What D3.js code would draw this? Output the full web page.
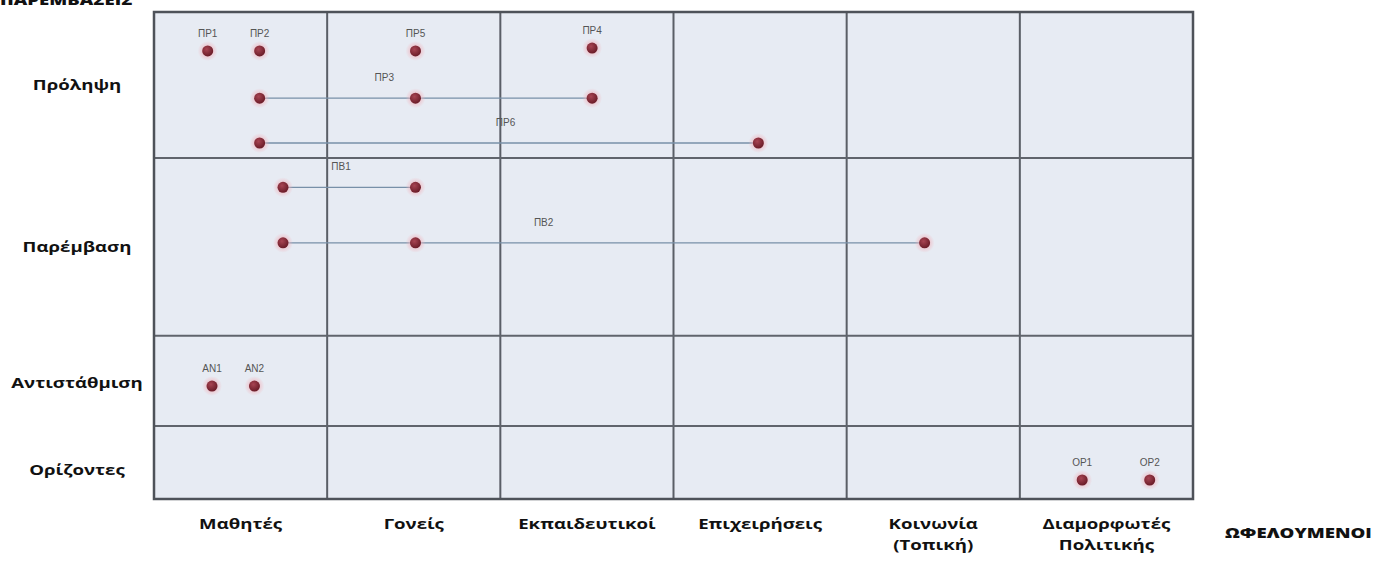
<!DOCTYPE html>
<html><head><meta charset="utf-8">
<script src="https://cdn.jsdelivr.net/npm/d3@7"></script>
<style>body{margin:0;background:#fff}svg{display:block}</style>
</head><body>
<svg id="c" width="1379" height="562"></svg>
<script>
// Data
const columns = ["Μαθητές","Γονείς","Εκπαιδευτικοί","Επιχειρήσεις","Κοινωνία\n(Τοπική)","Διαμορφωτές\nΠολιτικής"];
const rows = ["Πρόληψη","Παρέμβαση","Αντιστάθμιση","Ορίζοντες"];
const rowBounds = [0, 30, 66.5, 85, 100];          // vertical extent of each row (0-100 units)
const singles = [                                   // [label, column position, row position]
  ["ΠΡ1", 0.31, 8], ["ΠΡ2", 0.61, 8], ["ΠΡ5", 1.51, 8], ["ΠΡ4", 2.53, 7.4],
  ["ΑΝ1", 0.335, 76.8], ["ΑΝ2", 0.58, 76.8],
  ["ΟΡ1", 5.36, 96.1], ["ΟΡ2", 5.75, 96.1]
];
const chains = [                                    // [label, label pos, row pos, points]
  ["ΠΡ3", 1.33, 17.7, [0.61, 1.51, 2.53]],
  ["ΠΡ6", 2.03, 26.9, [0.61, 3.49]],
  ["ΠΒ1", 1.08, 36.0, [0.745, 1.51]],
  ["ΠΒ2", 2.25, 47.4, [0.745, 1.51, 4.45]]
];
const yTitle = "ΠΑΡΕΜΒΑΣΕΙΣ";
const xTitle = "ΩΦΕΛΟΥΜΕΝΟΙ";

const svg = d3.select("#c");
const L = 154, R = 1193, T = 12, B = 499;
const x = d3.scaleLinear().domain([0, columns.length]).range([L, R]);
const y = d3.scaleLinear().domain([0, 100]).range([T, B]);
const SX = 1.33; // horizontal stretch of the bold labels

const defs = svg.append("defs");
const g1 = defs.append("radialGradient").attr("id","dot").attr("cx","40%").attr("cy","35%").attr("r","65%");
g1.append("stop").attr("offset","0%").attr("stop-color","#a84452");
g1.append("stop").attr("offset","100%").attr("stop-color","#6a1c28");
const g2 = defs.append("radialGradient").attr("id","halo");
g2.append("stop").attr("offset","40%").attr("stop-color","#f0b4bd").attr("stop-opacity",0.75);
g2.append("stop").attr("offset","100%").attr("stop-color","#f0b4bd").attr("stop-opacity",0);

// background
svg.append("rect").attr("x",L).attr("y",T).attr("width",R-L).attr("height",B-T).attr("fill","#e7ebf3");

// grid
svg.append("g").selectAll("line").data(d3.range(1, columns.length)).join("line")
  .attr("x1",d=>x(d)).attr("x2",d=>x(d)).attr("y1",T).attr("y2",B)
  .attr("stroke","#5a5e66").attr("stroke-width",2);
svg.append("g").selectAll("line").data(rowBounds.slice(1,-1)).join("line")
  .attr("x1",L).attr("x2",R).attr("y1",d=>y(d)).attr("y2",d=>y(d))
  .attr("stroke","#60646c").attr("stroke-width",2);
svg.append("rect").attr("x",L).attr("y",T).attr("width",R-L).attr("height",B-T)
  .attr("fill","none").attr("stroke","#4e5259").attr("stroke-width",2.5);

// connecting lines
svg.append("g").selectAll("line").data(chains).join("line")
  .attr("x1",d=>x(d3.min(d[3]))).attr("x2",d=>x(d3.max(d[3])))
  .attr("y1",d=>y(d[2])).attr("y2",d=>y(d[2]))
  .attr("stroke","#7890a8").attr("stroke-width",1.3);

// points
const pts = singles.map(d=>({x:d[1], y:d[2]}))
  .concat(chains.flatMap(c=>c[3].map(p=>({x:p, y:c[2]}))));
const pg = svg.append("g");
pg.selectAll("circle.h").data(pts).join("circle").attr("class","h")
  .attr("cx",d=>x(d.x)).attr("cy",d=>y(d.y)).attr("r",10).attr("fill","url(#halo)");
pg.selectAll("circle.d").data(pts).join("circle").attr("class","d")
  .attr("cx",d=>x(d.x)).attr("cy",d=>y(d.y)).attr("r",5.5).attr("fill","url(#dot)");

// point labels
const lf = "'Liberation Sans', Arial, sans-serif";
svg.append("g").selectAll("text").data(singles).join("text")
  .attr("x",d=>x(d[1])).attr("y",d=>y(d[2])-14).attr("text-anchor","middle")
  .attr("font-family",lf).attr("font-size",10).attr("fill","#555").text(d=>d[0]);
svg.append("g").selectAll("text").data(chains).join("text")
  .attr("x",d=>x(d[1])).attr("y",d=>y(d[2])-17).attr("text-anchor","middle")
  .attr("font-family",lf).attr("font-size",10).attr("fill","#555").text(d=>d[0]);

// stretched bold text helper
const bf = "'Open Sans', 'DejaVu Sans', sans-serif";
function stretched(sel, px, py){
  return sel.append("g").attr("transform",`translate(${px},${py}) scale(${SX},1)`)
    .append("text").attr("font-family",bf).attr("font-weight",700).attr("font-size",14).attr("fill","#111");
}

// row labels
rows.forEach((r,i)=>{
  stretched(svg, 77, y((rowBounds[i]+rowBounds[i+1])/2)+5 + (i===3?8:i===2?2:0))
    .attr("text-anchor","middle").text(r);
});

// column labels
columns.forEach((c,i)=>{
  const t = stretched(svg, x(i+0.5), 529).attr("text-anchor","middle");
  t.selectAll("tspan").data(c.split("\n")).join("tspan")
    .attr("x",0).attr("dy",(d,j)=>j?21:0).text(d=>d);
});

// axis titles
stretched(svg, 1225, 538).attr("font-weight",800).text(xTitle);
stretched(svg, 0, 5).attr("font-weight",800).text(yTitle);
</script>
</body></html>
